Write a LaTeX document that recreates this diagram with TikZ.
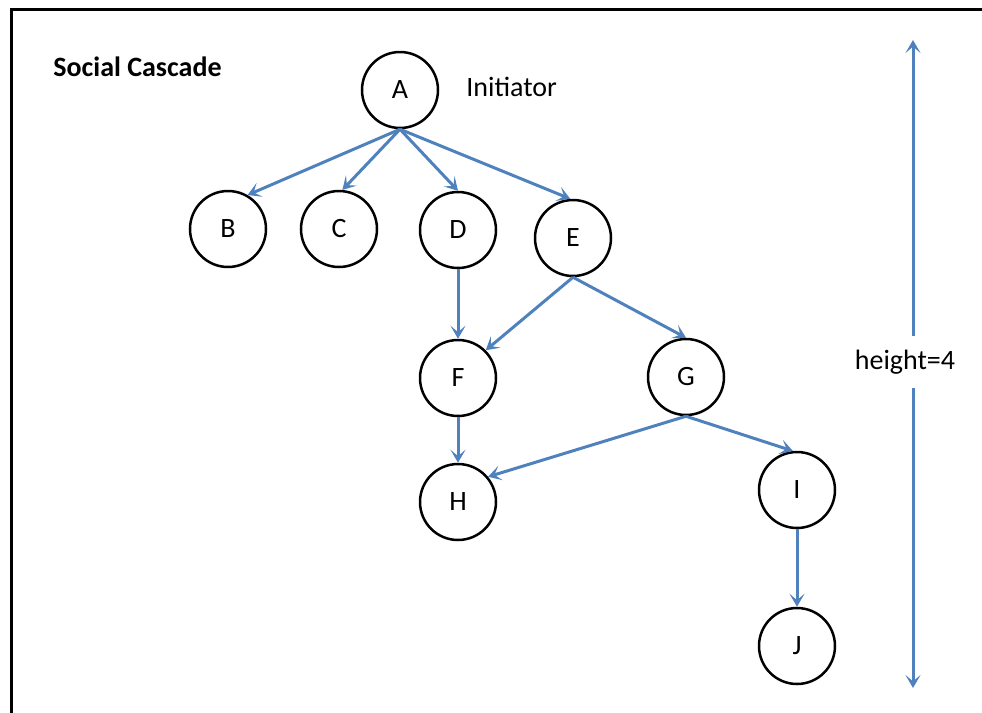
\documentclass[tikz,border=0pt]{standalone}
\usepackage{fontspec}
\setmainfont{Carlito}
\usetikzlibrary{arrows.meta}
\definecolor{linkblue}{RGB}{79,129,189}
\begin{document}
\begin{tikzpicture}[x=0.5pt,y=-0.5pt,
  person/.style={circle,draw=black,line width=1.25pt,minimum size=38pt,inner sep=0pt,
    font=\fontsize{14}{16}\selectfont},
  link/.style={draw=linkblue,line width=1.5pt,
    -{Stealth[length=6.5pt,width=7.5pt,inset=3.2pt]}},
  lbl/.style={font=\fontsize{14}{16}\selectfont,inner sep=0pt}]
\useasboundingbox (0,0) rectangle (982,713);
% frame (only its top and left edges fall inside the page)
\draw[line width=1.5pt,black] (11.5,713) -- (11.5,9.5) -- (982,9.5);

\node[lbl,anchor=west,font=\fontsize{14}{16}\selectfont\bfseries] (title) at (53,67) {Social Cascade};

% people
\node[person] (A) at (400,90) {A};
\node[lbl,anchor=west] (init) at (466,87) {Initiator};
\node[person] (B) at (228,229) {B};
\node[person] (C) at (339,229) {C};
\node[person] (D) at (458,230) {D};
\node[person] (E) at (573,238) {E};
\node[person] (F) at (458,378) {F};
\node[person] (G) at (686,377) {G};
\node[person] (H) at (458,502) {H};
\node[person] (I) at (797,490) {I};
\node[person] (J) at (797,646) {J};

% who passed it on to whom
\draw[link] (A.south) -- (B.60);
\draw[link] (A.south) -- (C.85);
\draw[link] (A.south) -- (D.north);
\draw[link] (A.south) -- (E.94);
\draw[link] (D.south) -- (F.north);
\draw[link] (E.south) -- (F.45);
\draw[link] (E.south) -- (G.north);
\draw[link] (F.south) -- (H.north);
\draw[link] (G.south) -- (H.40);
\draw[link] (G.south) -- (I.96);
\draw[link] (I.south) -- (J.north);

% cascade height
\coordinate (htop) at (913,40);
\coordinate (hbot) at (913,688);
\draw[draw=linkblue,line width=1.5pt,
  {Stealth[length=6.5pt,width=7.5pt,inset=3.2pt]}-{Stealth[length=6.5pt,width=7.5pt,inset=3.2pt]}]
  (htop) -- (hbot);
\node[lbl,fill=white,minimum height=26pt,inner xsep=2pt] (hlabel) at (905,362) {height=4};
\end{tikzpicture}
\end{document}
